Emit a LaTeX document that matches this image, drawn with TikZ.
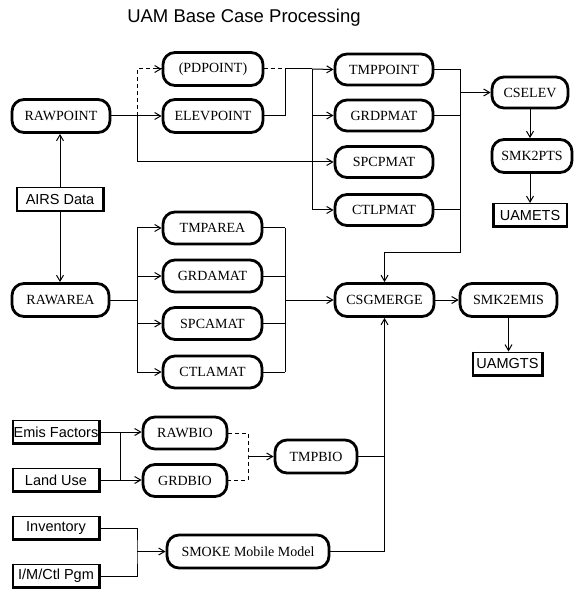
\documentclass[tikz,border=0pt]{standalone}
\usepackage{fontspec}
\setmainfont{Liberation Serif}
\setsansfont{Liberation Sans}
\usetikzlibrary{arrows.meta}
\tikzset{
  prog/.style={draw, line width=2.8pt, rounded corners=12pt, minimum height=33pt, inner sep=0pt, font=\rmfamily\fontsize{14}{16}\selectfont},
  datafile/.style={draw, line width=1pt, minimum height=24pt, minimum width=88pt, inner sep=0pt, font=\sffamily\fontsize{14.5}{16}\selectfont},
  conn/.style={line width=1pt},
  arr/.style={line width=1pt, -{Straight Barb[length=6pt,width=7pt]}},
  dconn/.style={line width=1pt, dash pattern=on 4pt off 3pt},
}
\newcommand{\thickedges}[1]{\draw[line width=2.5pt] ([xshift=1.25pt]#1.north west) -- ([xshift=1.25pt,yshift=1.25pt]#1.south west) -- ([xshift=-1.25pt,yshift=1.25pt]#1.south east) -- ([xshift=-1.25pt]#1.north east);}
\begin{document}
\begin{tikzpicture}[x=1pt,y=-1pt]
\useasboundingbox (0,0) rectangle (577,593);
\node[font=\sffamily\fontsize{18.5}{20}\selectfont] (title) at (244,18) {UAM Base Case Processing};

% point column
\node[prog, minimum width=98pt] (rawpoint) at (61,116) {RAWPOINT};
\node[prog, minimum width=100pt] (pdpoint) at (213,69) {(PDPOINT)};
\node[prog, minimum width=100pt] (elevpoint) at (213,116) {ELEVPOINT};
\node[prog, minimum width=98pt, minimum height=31pt] (tmppoint) at (384,69.5) {TMPPOINT};
\node[prog, minimum width=98pt, minimum height=31pt] (grdpmat) at (384,115.5) {GRDPMAT};
\node[prog, minimum width=98pt, minimum height=31pt] (spcpmat) at (384,162) {SPCPMAT};
\node[prog, minimum width=98pt, minimum height=31pt] (ctlpmat) at (384,210) {CTLPMAT};
\node[prog, minimum width=76pt, minimum height=31pt] (cselev) at (530,92.5) {CSELEV};
\node[prog, minimum width=80pt] (smk2pts) at (532,156) {SMK2PTS};
\node[datafile, minimum width=75pt] (uamets) at (530,215.5) {UAMETS};

\node[datafile] (airs) at (60,200) {AIRS Data};

% area column
\node[prog, minimum width=97pt] (rawarea) at (60.5,300) {RAWAREA};
\node[prog, minimum width=99pt, minimum height=32pt] (tmparea) at (212.5,228) {TMPAREA};
\node[prog, minimum width=99pt, minimum height=32pt] (grdamat) at (212.5,276) {GRDAMAT};
\node[prog, minimum width=99pt, minimum height=32pt] (spcamat) at (212.5,323.5) {SPCAMAT};
\node[prog, minimum width=99pt, minimum height=32pt] (ctlamat) at (212.5,372) {CTLAMAT};
\node[prog, minimum width=99pt] (csgmerge) at (384.5,300) {CSGMERGE};
\node[prog, minimum width=97pt] (smk2emis) at (508.5,300) {SMK2EMIS};
\node[datafile, minimum width=71pt] (uamgts) at (507.5,364) {UAMGTS};

% biogenic and mobile
\node[datafile] (emis) at (56,432) {Emis Factors};
\node[datafile] (landuse) at (56,480) {Land Use};
\node[datafile] (inventory) at (56,528) {Inventory};
\node[datafile] (imctl) at (56,576) {I/M/Ctl Pgm};
\node[prog, minimum width=84pt, minimum height=32pt] (rawbio) at (185,433) {RAWBIO};
\node[prog, minimum width=84pt, minimum height=32pt] (grdbio) at (185,480.5) {GRDBIO};
\node[prog, minimum width=82pt] (tmpbio) at (316,456.5) {TMPBIO};
\node[prog, minimum width=162pt] (smoke) at (248,551.5) {SMOKE Mobile Model};

\foreach \n in {airs,uamets,uamgts,emis,landuse,inventory,imctl} {\thickedges{\n}}

% junction coordinates
\coordinate (jrp) at (137,116);
\coordinate (jpd) at (285,69);
\coordinate (jtp) at (312,69);
\coordinate (jout) at (460,69.5);
\coordinate (jra) at (137,300);
\coordinate (jarea) at (285,300);
\coordinate (jbio) at (120,432);
\coordinate (jdb) at (248,456.5);
\coordinate (jmob) at (137,551.5);

% AIRS
\draw[arr] (airs.north) -- (airs.north |- rawpoint.south);
\draw[arr] (airs.south) -- (airs.south |- rawarea.north);

% point branch
\draw[conn] (rawpoint.east) -- (jrp);
\draw[arr] (jrp) -- (elevpoint.west);
\draw[dconn] (jrp) |- (pdpoint.west);
\draw[arr] (pdpoint.west) ++(-6pt,0) -- (pdpoint.west);
\draw[arr] (jrp) |- (spcpmat.west);
\draw[dconn] (pdpoint.east) -- (jpd);
\draw[conn] (elevpoint.east) -| (jpd) -- (jtp);
\draw[arr] (jtp) -- (tmppoint.west);
\draw[conn] (jtp) -- (jtp |- ctlpmat.west);
\draw[arr] (jtp |- grdpmat.west) -- (grdpmat.west);
\draw[arr] (jtp |- ctlpmat.west) -- (ctlpmat.west);
\draw[conn] (tmppoint.east) -- (jout);
\draw[conn] (grdpmat.east) -- (jout |- grdpmat.east);
\draw[conn] (ctlpmat.east) -- (jout |- ctlpmat.east);
\draw[arr] (jout |- cselev.west) -- (cselev.west);
\draw[arr] (jout) -- (460,252) -| (csgmerge.north);
\draw[arr] (cselev.south) -- (cselev.south |- smk2pts.north);
\draw[arr] (cselev.south |- smk2pts.south) -- (cselev.south |- uamets.north);

% area branch
\draw[conn] (rawarea.east) -- (jra);
\draw[conn] (jra |- tmparea.west) -- (jra |- ctlamat.west);
\foreach \n in {tmparea,grdamat,spcamat,ctlamat} {
  \draw[arr] (jra |- \n.west) -- (\n.west);
  \draw[conn] (\n.east) -- (jarea |- \n.east);
}
\draw[conn] (jarea |- tmparea.east) -- (jarea |- ctlamat.east);
\draw[arr] (jarea) -- (csgmerge.west);
\draw[arr] (csgmerge.east) -- (smk2emis.west);
\draw[arr] (smk2emis.south) -- (smk2emis.south |- uamgts.north);

% biogenic
\draw[arr] (emis.east) -- (emis.east -| rawbio.west);
\draw[arr] (landuse.east) -- (landuse.east -| grdbio.west);
\draw[conn] (jbio) -- (jbio |- landuse.east);
\draw[dconn] (rawbio.east) -| (jdb) |- (grdbio.east);
\draw[arr] (jdb) -- (tmpbio.west);
\draw[conn] (tmpbio.east) -- (tmpbio.east -| csgmerge.south);

% mobile
\draw[conn] (inventory.east) -| (jmob) |- (imctl.east);
\draw[arr] (jmob) -- (smoke.west);
\draw[arr] (smoke.east) -| (csgmerge.south);
\end{tikzpicture}
\end{document}
